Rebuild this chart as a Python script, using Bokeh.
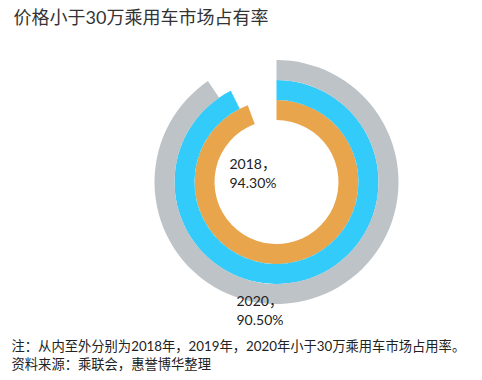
import math
from bokeh.plotting import figure
from bokeh.models import Range1d, ColumnDataSource
from bokeh.core.properties import value
from bokeh.embed import file_html
from bokeh.resources import INLINE

# Data
years = ["2018", "2019", "2020"]
shares = [94.30, 92.60, 90.50]  # percent
colors = ["#E8A54C", "#33CCFA", "#BDC3C7"]
title_text = "价格小于30万乘用车市场占有率"
note_lines = ["注：从内至外分别为2018年，2019年，2020年小于30万乘用车市场占用率。",
              "资料来源：乘联会，惠誉博华整理"]

W, H = 474, 372
FONT = "Lato, 'Noto Sans CJK SC', 'Noto Sans', sans-serif"

p = figure(width=W, height=H, output_backend="svg", toolbar_location=None,
           x_range=Range1d(0, W), y_range=Range1d(0, H), min_border=0)
p.axis.visible = False
p.grid.visible = False
p.outline_line_color = None
p.background_fill_color = "white"
p.border_fill_color = "white"

cx, cy = 276, 190.5
inner0 = 62
thick = 20
inner = [inner0 + i * thick for i in range(len(years))]
outer = [r + thick for r in inner]
start = [math.pi / 2] * len(years)
end = [math.pi / 2 - 2 * math.pi * s / 100 for s in shares]

src = ColumnDataSource(dict(x=[cx] * len(years), y=[cy] * len(years),
                            ir=inner, orr=outer, sa=start, ea=end, c=colors))
p.annular_wedge(x="x", y="y", inner_radius="ir", outer_radius="orr",
                start_angle="sa", end_angle="ea", direction="clock",
                fill_color="c", line_color=None, source=src)

# value labels
lab_x = [cx - 47, cx - 40]
lab_y = [[cy + 18.5, cy - 0.5], [cy - 118.5, cy - 137.5]]
for i, idx in enumerate([0, 2]):
    p.text(x=[lab_x[i], lab_x[i]], y=lab_y[i],
           text=[years[idx] + "，", "%.2f%%" % shares[idx]],
           text_font=value(FONT), text_font_size="14px", text_color="#222222",
           text_baseline="middle", text_align="left")

# title
p.text(x=[13], y=[356], text=[title_text], text_font=value(FONT),
       text_font_size="18px", text_color="#333333", text_baseline="middle")

# notes
p.text(x=[11, 11], y=[27, 9], text=note_lines, text_font=value(FONT),
       text_font_size="13.3px", text_color="#222222", text_baseline="middle")

open("out.html", "w").write(file_html(p, INLINE))
